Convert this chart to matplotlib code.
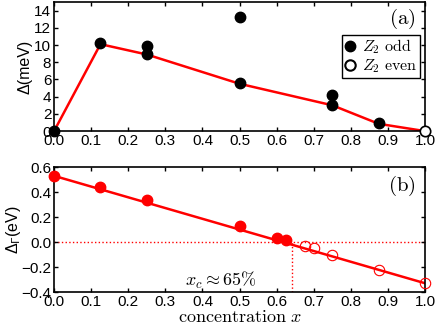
import matplotlib
matplotlib.use("Agg")
import matplotlib.pyplot as plt
from matplotlib.lines import Line2D

plt.rcParams['font.family'] = ['Liberation Sans', 'DejaVu Sans']
plt.rcParams['mathtext.fontset'] = 'cm'

# Panel (a) data
odd_x = [0.0, 0.125, 0.25, 0.25, 0.5, 0.5, 0.75, 0.75, 0.875]
odd_y = [0.0, 10.2, 9.9, 8.9, 13.3, 5.6, 4.2, 3.0, 1.0]
even_x = [1.0]
even_y = [0.0]
line_a_x = [0.0, 0.125, 0.25, 0.5, 0.75, 0.875, 1.0]
line_a_y = [0.0, 10.1, 8.9, 5.5, 3.0, 0.85, 0.0]

# Panel (b) data
fill_x = [0.0, 0.125, 0.25, 0.5, 0.6, 0.625]
fill_y = [0.53, 0.44, 0.34, 0.13, 0.035, 0.015]
open_x = [0.675, 0.7, 0.75, 0.875, 1.0]
open_y = [-0.035, -0.05, -0.10, -0.22, -0.33]
line_b_x = [0.0, 1.0]
line_b_y = [0.53, -0.33]
xc = 0.64

xticks = [0.0, 0.1, 0.2, 0.3, 0.4, 0.5, 0.6, 0.7, 0.8, 0.9, 1.0]
yticks_a = [0, 2, 4, 6, 8, 10, 12, 14]
yticks_b = [-0.4, -0.2, 0.0, 0.2, 0.4, 0.6]
legend_labels = [r'$Z_2\ \mathrm{odd}$', r'$Z_2\ \mathrm{even}$']

fig = plt.figure(figsize=(4.36, 3.27), dpi=100)
ax1 = fig.add_axes([0.124, 0.599, 0.851, 0.395])
ax2 = fig.add_axes([0.124, 0.107, 0.851, 0.382])

for ax in (ax1, ax2):
    ax.tick_params(direction='in', top=True, right=True, labelsize=11,
                   length=3, width=1, pad=2)
    for s in ax.spines.values():
        s.set_linewidth(1.2)
    ax.set_xlim(0, 1)
    ax.set_xticks(xticks)
    ax.set_xticklabels([f"{t:.1f}" for t in xticks])

# Panel (a)
ax1.plot(line_a_x, line_a_y, color='red', lw=1.8, zorder=2)
ax1.plot(odd_x, odd_y, 'o', color='black', ms=7.5, zorder=3, clip_on=False)
ax1.plot(even_x, even_y, 'o', mfc='white', mec='black', mew=1.2, ms=7.5,
         zorder=3, clip_on=False)
ax1.set_ylim(0, 15)
ax1.set_yticks(yticks_a)
ax1.set_yticklabels([str(t) for t in yticks_a])
ax1.set_ylabel('Δ(meV)', fontsize=11.5, labelpad=1)
ax1.text(0.975, 13.0, r'$\mathrm{(a)}$', fontsize=15, ha='right', va='center')
handles = [Line2D([], [], ls='none', marker='o', color='black', ms=7.5),
           Line2D([], [], ls='none', marker='o', mfc='white', mec='black',
                  mew=1.5, ms=7.5)]
leg = ax1.legend(handles, legend_labels,
                 loc='upper right', bbox_to_anchor=(0.987, 0.744),
                 bbox_transform=ax1.transAxes,
                 borderaxespad=0, fancybox=False, framealpha=1,
                 edgecolor='black', fontsize=11.5, handlelength=0.7,
                 handletextpad=0.45, borderpad=0.15, labelspacing=0.1)
leg.get_frame().set_linewidth(1.0)

# Panel (b)
ax2.axhline(0, color='red', ls=':', lw=1.0, zorder=1)
ax2.plot([xc, xc], [-0.4, 0], color='red', ls=':', lw=1.0, zorder=1)
ax2.plot(line_b_x, line_b_y, color='red', lw=1.8, zorder=2)
ax2.plot(fill_x, fill_y, 'o', color='red', ms=7.5, zorder=3, clip_on=False)
ax2.plot(open_x, open_y, 'o', mfc='none', mec='red', mew=0.8, ms=7.5,
         zorder=3, clip_on=False)
ax2.set_ylim(-0.4, 0.6)
ax2.set_yticks(yticks_b)
ax2.set_yticklabels([f"{t:.1f}".replace('-', '\u2212') for t in yticks_b])
ax2.set_ylabel('Δ$_\\Gamma$(eV)', fontsize=11.5, labelpad=-1,
               math_fontfamily='dejavusans')
ax2.set_xlabel(r'$\mathrm{concentration}\ x$', fontsize=13, labelpad=0)
ax2.text(0.975, 0.45, r'$\mathrm{(b)}$', fontsize=15, ha='right', va='center')
ax2.text(0.45, -0.31, r'$x_c \approx 65\%$', fontsize=13, ha='center',
         va='center')

fig.savefig('out.png', dpi=100)
